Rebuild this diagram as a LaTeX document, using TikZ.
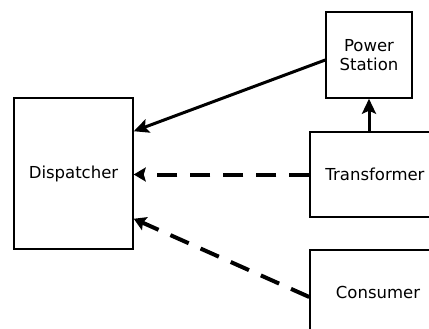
\documentclass[tikz,border=0pt]{standalone}
\usepackage{fontspec}
\setmainfont{DejaVu Sans}
\usetikzlibrary{arrows.meta,calc}
\begin{document}
\begin{tikzpicture}[x=1pt,y=-1pt,
  box/.style={draw=black,line width=1.5pt,fill=white,inner sep=0pt,font=\fontsize{16.5}{19}\selectfont,align=center},
  solidarrow/.style={line width=3pt,-{Stealth[length=15pt,width=14pt,inset=3pt]}},
  dasharrow/.style={line width=4pt,dash pattern=on 20pt off 13pt,-{Stealth[length=12pt,width=14pt,inset=2pt]}}]
\useasboundingbox (0,0) rectangle (429,329);
\clip (0,0) rectangle (429,329);
\node[box,minimum width=119pt,minimum height=151pt] (D) at (73.5,173.5) {Dispatcher};
\node[box,minimum width=86pt,minimum height=86pt] (P) at (369,55) {Power\\Station};
\node[box,minimum width=130pt,minimum height=85pt] (T) at (375,174.5) {Transformer};
\node[box,minimum width=136pt,minimum height=84pt] (C) at (378,292) {Consumer};
\draw[solidarrow] ($(P.west)+(0,5)$) -- ($(D.north east)+(0,34)$);
\draw[solidarrow] (T.north -| P.south) -- (P.south);
\draw[dasharrow] (T.west) -- (T.west -| D.east);
\draw[dasharrow] ($(C.west)+(0,5)$) -- ($(D.south east)+(0,-31)$);
\end{tikzpicture}
\end{document}
